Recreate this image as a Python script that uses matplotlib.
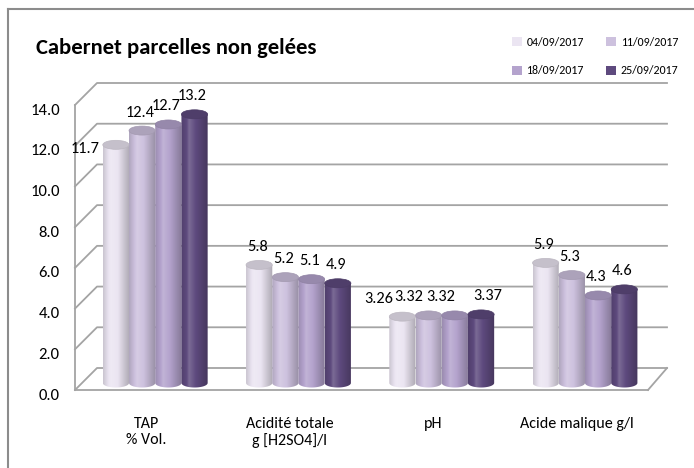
import numpy as np
import matplotlib
matplotlib.use('Agg')
import matplotlib.pyplot as plt
from matplotlib.patches import Ellipse, Polygon, Rectangle
from matplotlib.transforms import ScaledTranslation
from matplotlib.lines import Line2D
from matplotlib.colors import to_rgb

plt.rcParams['font.family'] = ['Carlito', 'DejaVu Sans']

categories = ['TAP\n% Vol.', 'Acidité totale\ng [H2SO4]/l', 'pH', 'Acide malique g/l']
dates = ['04/09/2017', '11/09/2017', '18/09/2017', '25/09/2017']
v_0409 = [11.7, 5.8, 3.26, 5.9]
v_1109 = [12.4, 5.2, 3.32, 5.3]
v_1809 = [12.7, 5.1, 3.32, 4.3]
v_2509 = [13.2, 4.9, 3.37, 4.6]
label_fmt = ['%.1f', '%.1f', '%.2f', '%.1f']
yticks = np.arange(0, 15, 2)

series = [v_0409, v_1109, v_1809, v_2509]
colors = ['#ebe5f2', '#cdc1de', '#b4a3cd', '#5e4a7e']

# label nudges in pixels (series, category) -> (dx, dy)
nudge = {(0, 0): (-31, -22), (0, 2): (-24, 0), (1, 2): (-20, 0),
         (2, 2): (-14, 0), (3, 2): (7, 0)}

W, H = 694, 468
fig = plt.figure(figsize=(W / 100, H / 100), dpi=100)
ax = fig.add_axes([75 / W, 1 - 390 / H, (648 - 75) / W, (390 - 105) / H])
xl, xr = -0.5, 3.5
ax.set_xlim(xl, xr)
ax.set_ylim(0, 14)
xpx = (648 - 75) / (xr - xl)
ypx = (390 - 105) / 14.0

# back wall + floor
gc = '#a4a4a4'
dxl, dy = 22 / xpx, 22 / ypx
xr_back = xr + 19 / xpx
for v in yticks:
    ax.plot([xl, xl + dxl, xr_back], [v, v + dy, v + dy], color=gc, lw=1.3,
            clip_on=False, zorder=1)
ax.plot([xr, xr_back], [0, dy], color=gc, lw=1.3, clip_on=False, zorder=1)

for s in ['top', 'right']:
    ax.spines[s].set_visible(False)
for s in ['left', 'bottom']:
    ax.spines[s].set_color(gc)
    ax.spines[s].set_linewidth(1.3)


def grad(col):
    base = np.array(to_rgb(col))
    t = np.linspace(0, 1, 60)
    s = np.interp(t, [0, 0.3, 0.55, 1], [0.86, 1.06, 1.0, 0.74])
    rows = []
    for k in s:
        if k > 1:
            c = base + (1 - base) * (k - 1) * 3
        else:
            c = base * k
        rows.append(np.clip(c, 0, 1))
    return np.array(rows)[None, :, :]


# bars sit a little behind the front plane: shift right and up
lift = ax.transData + ScaledTranslation(8.6 / 100, 7 / 100, fig.dpi_scale_trans)
bw = 0.183
eh = 9 / ypx
xs = np.arange(len(categories))
for i, vals in enumerate(series):
    col = colors[i]
    bars = ax.bar(xs + (i - 1.5) * bw, vals, bw, color=col, transform=lift,
                  linewidth=0, zorder=2)
    for j, rect in enumerate(bars):
        rect.set_visible(False)
        x0, w, h = rect.get_x(), rect.get_width(), rect.get_height()
        th = np.linspace(np.pi, 2 * np.pi, 30)
        bx = x0 + w / 2 + w / 2 * np.cos(th)
        by = eh / 2 * np.sin(th)
        verts = [(x0, h)] + list(zip(bx, by)) + [(x0 + w, h)]
        poly = Polygon(verts, closed=True, transform=lift, facecolor='none',
                       edgecolor='none')
        ax.add_patch(poly)
        im = ax.imshow(grad(col), extent=(x0, x0 + w, -eh / 2, h), aspect='auto',
                       transform=lift, zorder=3, interpolation='bilinear')
        im.set_clip_path(poly)
        cap = np.array(to_rgb(col)) * 0.84
        ax.add_patch(Ellipse((x0 + w / 2, h), w, eh, transform=lift,
                             facecolor=cap, edgecolor=cap * 0.95, lw=0.5, zorder=4))
        dx, ddy = nudge.get((i, j), (-2, 0))
        ax.annotate(label_fmt[j] % vals[j], (x0 + w / 2, h), xycoords=lift,
                    xytext=(dx, 18 + ddy), textcoords='offset pixels',
                    ha='center', va='center', fontsize=11.8, color='black',
                    zorder=5)

ax.set_xlim(xl, xr)
ax.set_ylim(0, 14)
ax.set_xticks(xs)
ax.set_xticklabels(categories, fontsize=11.5)
ax.set_yticks(yticks)
ax.set_yticklabels(['%.1f' % v for v in yticks], fontsize=12)
ax.tick_params(axis='x', length=0, pad=19.5)
ax.tick_params(axis='y', length=0, pad=11)
down = ScaledTranslation(0, -4 / 100, fig.dpi_scale_trans)
for lbl in ax.get_yticklabels():
    lbl.set_transform(lbl.get_transform() + down)

fig.text(36 / W, 1 - 48 / H, 'Cabernet parcelles non gelées', fontsize=16.3,
         fontweight='bold', va='center')

fc = '#8c8c8c'
fig.add_artist(Line2D([8 / W, 8 / W], [0, 1 - 9 / H], color=fc, lw=1.5))
fig.add_artist(Line2D([8 / W, 1], [1 - 9 / H, 1 - 9 / H], color=fc, lw=1.5))

handles = [Rectangle((0, 0), 1, 1, fc=c) for c in colors]
order = [0, 2, 1, 3]
fig.legend([handles[k] for k in order], [dates[k] for k in order],
           loc='upper left', bbox_to_anchor=(512 / W, 1 - 37 / H), ncol=2,
           frameon=False, fontsize=8.6, handlelength=0.8, handleheight=0.8,
           handletextpad=0.4, columnspacing=1.9, labelspacing=1.45,
           borderaxespad=0, borderpad=0)

fig.savefig('out.png', dpi=100)
